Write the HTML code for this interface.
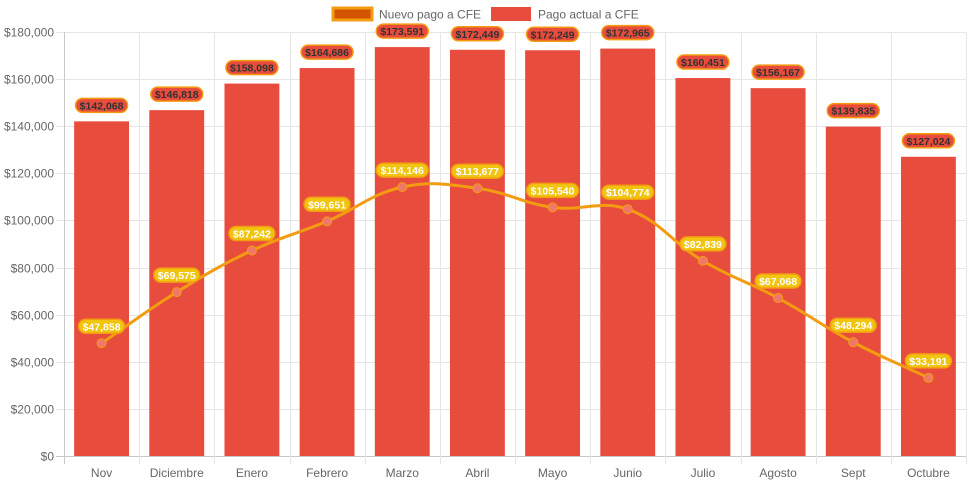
<!DOCTYPE html>
<html><head><meta charset="utf-8"><style>
html,body{margin:0;padding:0;background:#fff;}
svg{display:block;font-family:"Liberation Sans",Arial,sans-serif;}
</style></head><body>
<svg id="chart" width="971" height="485" viewBox="0 0 971 485" xmlns="http://www.w3.org/2000/svg">
<g>
<g><rect x="333" y="8" width="39" height="12" fill="#d35400" stroke="#f39c12" stroke-width="3"/><text x="379" y="18.5" font-size="12" fill="#666">Nuevo pago a CFE</text></g>
<g><rect x="491" y="7" width="40" height="14" fill="#e74c3c"/><text x="538" y="18.5" font-size="12" fill="#666">Pago actual a CFE</text></g>
</g>
<g id="grid"></g><g id="bars"></g><g id="line"></g><g id="labels"></g>
</svg>
<script>
const categories=["Nov","Diciembre","Enero","Febrero","Marzo","Abril","Mayo","Junio","Julio","Agosto","Sept","Octubre"];
const actualValues=[142068,146818,158098,164686,173591,172449,172249,172965,160451,156167,139835,127024];
const nuevoValues=[47858,69575,87242,99651,114146,113677,105540,104774,82839,67068,48294,33191];
const yTicks=[0,20000,40000,60000,80000,100000,120000,140000,160000,180000];
const NS="http://www.w3.org/2000/svg";
const L=64,R=966,T=32,B=456,yMax=180000;
const bw=(R-L)/categories.length;
const xC=i=>L+bw*(i+0.5);
const yS=v=>B-(v/yMax)*(B-T);
const fmt=v=>"$"+v.toLocaleString("en-US");
function el(tag,attrs,parent,text){const e=document.createElementNS(NS,tag);for(const k in attrs)e.setAttribute(k,attrs[k]);if(text!==undefined)e.textContent=text;parent.appendChild(e);return e;}
const grid=document.getElementById("grid");
yTicks.forEach(t=>{const y=Math.round(yS(t))+0.5;
const g=el("line",{x1:L-8,x2:R,y1:y,y2:y,stroke:t===0?"#c8c8c8":"#e6e6e6","stroke-width":1},grid);

const tx=el("text",{x:L-10,y:y+4,"text-anchor":"end","font-size":12,fill:"#666"},grid,fmt(t));
});
for(let i=0;i<=categories.length;i++){const x=Math.round(L+bw*i)+0.5;
const g=el("line",{x1:x,x2:x,y1:T,y2:B+8,stroke:i===0?"#c8c8c8":"#e6e6e6","stroke-width":1},grid);
}
categories.forEach((c,i)=>{const t=el("text",{x:xC(i),y:477,"text-anchor":"middle","font-size":12,fill:"#666"},grid,c);
});
const bars=document.getElementById("bars"),labels=document.getElementById("labels"),line=document.getElementById("line");
function badge(x,y,txt,fill,stroke,color){const w=txt.length*6+4;
const g=el("g",{},labels);
el("rect",{x:x-w/2,y:y-7,width:w,height:14,rx:7,fill:fill,stroke:stroke,"stroke-width":1.5},g);
el("text",{x:x,y:y+4,"text-anchor":"middle","font-size":10.5,"font-weight":"bold",fill:color},g,txt);}
actualValues.forEach((v,i)=>{const w=bw*0.73;
const r=el("rect",{x:xC(i)-w/2,y:yS(v),width:w,height:B-yS(v),fill:"#e74c3c"},bars);

badge(xC(i),yS(v)-16,fmt(v),"#e74c3c","#f39c12","#333");});
const pts=nuevoValues.map((v,i)=>({x:xC(i),y:yS(v)}));
const tension=0.4;let d="M"+pts[0].x+","+pts[0].y;
const cps=pts.map((p,i)=>{const prev=pts[Math.max(0,i-1)],next=pts[Math.min(pts.length-1,i+1)];
const d01=Math.hypot(p.x-prev.x,p.y-prev.y),d12=Math.hypot(next.x-p.x,next.y-p.y);
let fa=d01/(d01+d12)||0,fb=d12/(d01+d12)||0;fa*=tension;fb*=tension;
return{px:p.x-fa*(next.x-prev.x),py:p.y-fa*(next.y-prev.y),nx:p.x+fb*(next.x-prev.x),ny:p.y+fb*(next.y-prev.y)};});
for(let i=1;i<pts.length;i++){d+=` C${cps[i-1].nx},${cps[i-1].ny} ${cps[i].px},${cps[i].py} ${pts[i].x},${pts[i].y}`;}
const path=el("path",{d:d,fill:"none",stroke:"#f39c12","stroke-width":3},line);

pts.forEach((p,i)=>{const c=el("circle",{cx:p.x,cy:p.y,r:4.5,fill:"#f0776a",stroke:"#f39c12","stroke-width":1},line);

badge(p.x,p.y-17,fmt(nuevoValues[i]),"#f1c40f","#f39c12","#fff");});
</script>
</body></html>
